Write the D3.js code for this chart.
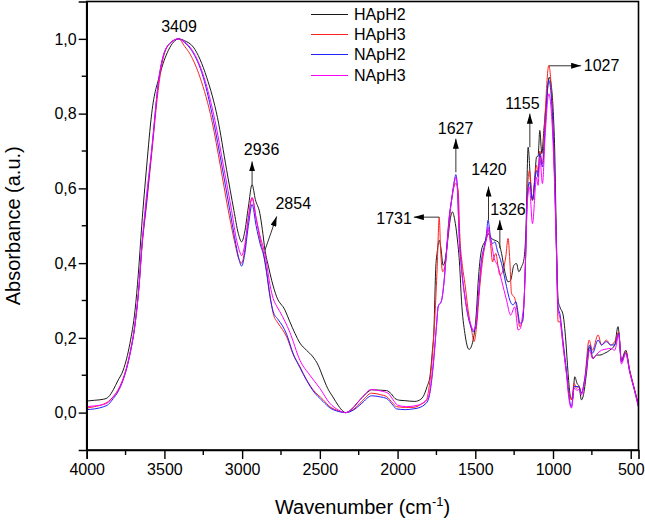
<!DOCTYPE html>
<html>
<head>
<meta charset="utf-8">
<script src="https://cdn.jsdelivr.net/npm/d3@7"></script>
<style>
  html, body { margin: 0; padding: 0; background: #fff; }
  svg { display: block; font-family: Arial, "Liberation Sans", sans-serif; }
</style>
</head>
<body>
<svg id="chart" width="645" height="521"></svg>
<script>
// ---------------- DATA ----------------
const seriesNames = ["HApH2", "HApH3", "NApH2", "NApH3"];
const seriesColors = ["#1a1a1a", "#ff2020", "#2020ff", "#ff00ff"];

const xTicks = [4000, 3500, 3000, 2500, 2000, 1500, 1000, 500];
const yTicks = [0.0, 0.2, 0.4, 0.6, 0.8, 1.0];

const HApH2 = [[4000,0.031],[3950,0.033],[3890,0.036],[3860,0.042],[3829,0.061],[3800,0.085],[3765,0.114],[3722,0.185],[3689,0.274],[3668,0.37],[3646,0.50],[3614,0.66],[3582,0.80],[3529,0.905],[3475,0.969],[3440,0.992],[3409,1.0],[3370,0.995],[3314,0.978],[3228,0.897],[3159,0.79],[3100,0.65],[3053,0.541],[3025,0.48],[3003,0.457],[2985,0.48],[2960,0.55],[2936,0.61],[2915,0.57],[2886,0.533],[2870,0.49],[2853,0.435],[2830,0.39],[2810,0.354],[2778,0.31],[2724,0.274],[2693,0.243],[2660,0.212],[2628,0.186],[2586,0.167],[2544,0.149],[2511,0.127],[2480,0.095],[2450,0.065],[2416,0.042],[2380,0.018],[2352,0.004],[2334,0.0],[2300,0.008],[2243,0.034],[2200,0.052],[2167,0.061],[2110,0.06],[2071,0.059],[2040,0.05],[2017,0.038],[1985,0.033],[1953,0.032],[1889,0.03],[1850,0.036],[1835,0.043],[1810,0.07],[1792,0.096],[1775,0.17],[1767,0.212],[1754,0.39],[1745,0.43],[1732,0.461],[1722,0.443],[1707,0.394],[1690,0.417],[1675,0.47],[1659,0.523],[1647,0.537],[1632,0.515],[1617,0.47],[1600,0.39],[1589,0.301],[1567,0.212],[1540,0.169],[1514,0.194],[1492,0.274],[1482,0.346],[1460,0.435],[1428,0.466],[1418,0.479],[1396,0.466],[1374,0.461],[1353,0.457],[1331,0.426],[1310,0.377],[1289,0.35],[1273,0.354],[1252,0.394],[1235,0.399],[1220,0.377],[1203,0.39],[1188,0.408],[1175,0.479],[1160,0.71],[1145,0.62],[1132,0.568],[1117,0.63],[1106,0.684],[1096,0.686],[1085,0.755],[1072,0.693],[1059,0.755],[1042,0.835],[1025,0.897],[1010,0.871],[1000,0.817],[989,0.70],[978,0.461],[967,0.301],[956,0.283],[935,0.261],[918,0.194],[903,0.105],[888,0.043],[875,0.034],[860,0.096],[845,0.078],[832,0.07],[817,0.034],[802,0.052],[785,0.105],[764,0.176],[742,0.145],[721,0.154],[699,0.154],[667,0.159],[635,0.167],[603,0.181],[582,0.23],[560,0.141],[532,0.167],[507,0.114],[475,0.061],[450,0.022]];

const HApH3 = [[4000,0.012],[3950,0.016],[3890,0.023],[3860,0.03],[3829,0.043],[3800,0.06],[3765,0.092],[3722,0.159],[3689,0.239],[3662,0.346],[3646,0.435],[3614,0.56],[3580,0.70],[3535,0.88],[3507,0.95],[3460,0.99],[3409,1.0],[3370,0.98],[3336,0.96],[3271,0.897],[3194,0.78],[3140,0.66],[3093,0.55],[3050,0.46],[3020,0.41],[3003,0.40],[2985,0.43],[2960,0.52],[2936,0.575],[2910,0.52],[2880,0.455],[2864,0.43],[2843,0.38],[2821,0.315],[2800,0.265],[2770,0.24],[2740,0.222],[2714,0.203],[2671,0.155],[2628,0.123],[2607,0.105],[2543,0.061],[2480,0.035],[2436,0.016],[2380,0.005],[2334,0.0],[2280,0.01],[2230,0.03],[2167,0.052],[2110,0.048],[2071,0.043],[2030,0.025],[2007,0.016],[1950,0.014],[1900,0.014],[1850,0.022],[1814,0.034],[1800,0.06],[1782,0.123],[1760,0.256],[1745,0.39],[1732,0.523],[1723,0.435],[1710,0.377],[1696,0.39],[1675,0.479],[1653,0.568],[1625,0.613],[1610,0.595],[1600,0.479],[1582,0.39],[1567,0.346],[1546,0.274],[1524,0.221],[1508,0.19],[1492,0.23],[1471,0.337],[1450,0.417],[1428,0.47],[1418,0.49],[1402,0.452],[1389,0.403],[1380,0.415],[1368,0.426],[1353,0.39],[1342,0.368],[1321,0.381],[1304,0.417],[1289,0.466],[1278,0.408],[1267,0.319],[1246,0.306],[1231,0.274],[1214,0.23],[1196,0.248],[1186,0.30],[1175,0.435],[1167,0.568],[1152,0.648],[1132,0.568],[1106,0.662],[1096,0.64],[1085,0.70],[1068,0.666],[1053,0.782],[1027,0.929],[1010,0.86],[989,0.62],[978,0.44],[967,0.243],[956,0.243],[935,0.176],[913,0.105],[897,0.052],[881,0.034],[864,0.078],[849,0.065],[832,0.07],[817,0.052],[796,0.089],[768,0.194],[746,0.167],[710,0.208],[688,0.181],[656,0.194],[630,0.181],[603,0.19],[577,0.216],[560,0.136],[532,0.163],[507,0.114],[475,0.061],[450,0.02]];

const NApH2 = [[4000,0.008],[3950,0.01],[3890,0.016],[3860,0.022],[3829,0.038],[3800,0.055],[3765,0.088],[3722,0.155],[3689,0.235],[3662,0.345],[3646,0.44],[3621,0.541],[3580,0.71],[3535,0.897],[3507,0.955],[3460,0.99],[3409,1.0],[3370,0.99],[3325,0.969],[3250,0.897],[3185,0.782],[3130,0.66],[3079,0.541],[3040,0.45],[3020,0.41],[3003,0.392],[2985,0.42],[2960,0.50],[2936,0.557],[2910,0.50],[2880,0.445],[2864,0.425],[2843,0.375],[2821,0.31],[2800,0.27],[2770,0.25],[2740,0.232],[2714,0.21],[2671,0.157],[2628,0.12],[2543,0.058],[2480,0.03],[2436,0.013],[2380,0.003],[2334,0.0],[2280,0.008],[2230,0.025],[2167,0.045],[2110,0.042],[2071,0.038],[2030,0.02],[2007,0.01],[1950,0.008],[1900,0.01],[1850,0.015],[1830,0.02],[1803,0.034],[1771,0.123],[1750,0.23],[1739,0.283],[1717,0.30],[1702,0.346],[1685,0.435],[1668,0.523],[1653,0.568],[1635,0.62],[1625,0.637],[1615,0.60],[1604,0.479],[1589,0.39],[1567,0.31],[1546,0.256],[1524,0.225],[1514,0.216],[1497,0.23],[1482,0.301],[1460,0.408],[1439,0.452],[1428,0.479],[1418,0.515],[1402,0.47],[1389,0.452],[1374,0.457],[1359,0.435],[1331,0.399],[1299,0.337],[1278,0.301],[1257,0.288],[1239,0.297],[1224,0.265],[1214,0.239],[1196,0.243],[1186,0.30],[1175,0.435],[1167,0.56],[1152,0.617],[1132,0.57],[1106,0.648],[1096,0.63],[1085,0.693],[1068,0.657],[1050,0.764],[1027,0.889],[1010,0.84],[989,0.62],[978,0.44],[967,0.28],[956,0.265],[935,0.19],[913,0.11],[897,0.043],[881,0.016],[864,0.07],[845,0.07],[832,0.068],[817,0.052],[796,0.09],[764,0.181],[746,0.159],[710,0.194],[688,0.181],[656,0.19],[630,0.181],[603,0.181],[577,0.212],[560,0.136],[532,0.16],[507,0.11],[475,0.058],[450,0.016]];

const NApH3 = [[4000,0.016],[3950,0.018],[3890,0.022],[3860,0.028],[3829,0.042],[3800,0.058],[3765,0.09],[3722,0.157],[3689,0.237],[3662,0.345],[3646,0.44],[3625,0.541],[3580,0.71],[3535,0.895],[3507,0.955],[3460,0.99],[3409,1.0],[3370,0.992],[3320,0.969],[3245,0.897],[3175,0.782],[3120,0.66],[3068,0.541],[3035,0.46],[3015,0.43],[3003,0.42],[2985,0.445],[2960,0.52],[2936,0.575],[2910,0.52],[2880,0.465],[2864,0.443],[2843,0.40],[2820,0.34],[2800,0.305],[2778,0.285],[2757,0.27],[2693,0.215],[2628,0.14],[2564,0.10],[2500,0.065],[2436,0.025],[2380,0.007],[2334,0.0],[2280,0.015],[2230,0.04],[2167,0.062],[2110,0.058],[2061,0.052],[2030,0.035],[2000,0.02],[1942,0.016],[1868,0.02],[1830,0.028],[1803,0.04],[1771,0.13],[1750,0.23],[1739,0.283],[1717,0.30],[1702,0.346],[1685,0.43],[1668,0.52],[1653,0.565],[1635,0.615],[1625,0.63],[1615,0.60],[1604,0.47],[1589,0.385],[1567,0.31],[1546,0.26],[1524,0.23],[1514,0.22],[1497,0.235],[1482,0.30],[1460,0.40],[1439,0.445],[1428,0.465],[1418,0.497],[1402,0.46],[1396,0.452],[1381,0.417],[1353,0.39],[1331,0.354],[1299,0.301],[1273,0.261],[1246,0.283],[1224,0.221],[1210,0.225],[1196,0.261],[1186,0.30],[1175,0.435],[1167,0.55],[1152,0.604],[1132,0.506],[1106,0.63],[1096,0.608],[1085,0.684],[1068,0.613],[1050,0.746],[1027,0.853],[1010,0.80],[989,0.60],[978,0.43],[967,0.27],[956,0.256],[935,0.18],[913,0.10],[897,0.035],[881,0.012],[864,0.065],[845,0.06],[832,0.062],[817,0.047],[796,0.085],[764,0.167],[746,0.145],[710,0.16],[688,0.167],[656,0.17],[630,0.172],[603,0.167],[577,0.208],[560,0.13],[532,0.158],[507,0.11],[475,0.058],[450,0.014]];

const seriesData = [HApH2, HApH3, NApH2, NApH3];

// Peak annotations: label, arrow start [w, a], arrow tip [w, a], text anchor point [w, a], anchor side
const peakLabels = ["3409", "2936", "2854", "1731", "1627", "1420", "1326", "1155", "1027"];
const arrowFrom = [null, [2936, 0.61], [2853, 0.435], [1732, 0.523], [1625, 0.643], [1415, 0.515], [1342, 0.44], [1149, 0.71], [1025, 0.928]];
const arrowTo   = [null, [2936, 0.672], [2778, 0.525], [1895, 0.523], [1625, 0.733], [1415, 0.605], [1342, 0.515], [1149, 0.80], [819, 0.928]];
const labelAt   = [[3406, 1.018], [2875, 0.688], [2671, 0.546], [1908, 0.506], [1627, 0.746], [1412, 0.635], [1290, 0.528], [1197, 0.812], [802, 0.915]];
const labelAnchor = ["middle", "middle", "middle", "end", "middle", "middle", "middle", "middle", "start"];

// ---------------- CHART ----------------
const svg = d3.select("#chart");
const mLeft = 86.7, mRight = 638.5, mTop = 1.5, mBottom = 450;

const x = d3.scaleLinear().domain([4000, 450]).range([mLeft, mRight]);
const y = d3.scaleLinear().domain([-0.1, 1.1]).range([mBottom, mTop]);

const fmt = v => d3.format(".1f")(v).replace(".", ",");

// Series
const line = d3.line().x(d => x(d[0])).y(d => y(d[1])).curve(d3.curveMonotoneX);
const plot = svg.append("g");
seriesData.forEach((s, i) => {
  plot.append("path")
    .datum(s)
    .attr("fill", "none")
    .attr("stroke", seriesColors[i])
    .attr("stroke-width", 1)
    .attr("stroke-linejoin", "round")
    .attr("d", line);
});

// Frame
svg.append("rect")
  .attr("x", mLeft).attr("y", mTop)
  .attr("width", mRight - mLeft).attr("height", mBottom - mTop)
  .attr("fill", "none").attr("stroke", "#000").attr("stroke-width", 1.6);

// X axis
const xMinor = d3.range(3750, 500, -500);
const xAxis = d3.axisBottom(x).tickValues(xTicks).tickSize(9).tickPadding(5).tickFormat(d3.format("d"));
const gx = svg.append("g").attr("transform", `translate(0,${mBottom})`).call(xAxis);
gx.select(".domain").attr("stroke-width", 1.6);
gx.selectAll(".tick line").attr("stroke-width", 1.4);
gx.selectAll(".tick text").attr("font-size", 16).attr("font-family", "Arial, 'Liberation Sans', sans-serif").attr("fill", "#000");
svg.append("g").selectAll("line").data(xMinor).join("line")
  .attr("x1", d => x(d)).attr("x2", d => x(d))
  .attr("y1", mBottom).attr("y2", mBottom + 5)
  .attr("stroke", "#000").attr("stroke-width", 1.4);

// Y axis
const yMinor = [0.1, 0.3, 0.5, 0.7, 0.9];
const yAxis = d3.axisLeft(y).tickValues(yTicks).tickSize(8).tickPadding(2).tickFormat(fmt);
const gy = svg.append("g").attr("transform", `translate(${mLeft},0)`).call(yAxis);
gy.select(".domain").attr("stroke-width", 1.6);
gy.selectAll(".tick line").attr("stroke-width", 1.4);
gy.selectAll(".tick text").attr("font-size", 16).attr("font-family", "Arial, 'Liberation Sans', sans-serif").attr("fill", "#000");
svg.append("g").selectAll("line").data(yMinor).join("line")
  .attr("x1", mLeft - 5).attr("x2", mLeft)
  .attr("y1", d => y(d)).attr("y2", d => y(d))
  .attr("stroke", "#000").attr("stroke-width", 1.4);

// Axis titles
const xt = svg.append("text")
  .attr("x", (mLeft + mRight) / 2).attr("y", 514)
  .attr("text-anchor", "middle").attr("font-size", 20).attr("fill", "#000");
xt.append("tspan").text("Wavenumber (cm");
xt.append("tspan").attr("font-size", 13).attr("dy", -8).text("-1");
xt.append("tspan").attr("dy", 8).text(")");

svg.append("text")
  .attr("transform", `translate(20,${(mTop + mBottom) / 2}) rotate(-90)`)
  .attr("text-anchor", "middle").attr("font-size", 20).attr("fill", "#000")
  .text("Absorbance (a.u.)");

// Legend
const legend = svg.append("g");
const legendY = [14.5, 34.5, 54.5, 75.5];
seriesNames.forEach((name, i) => {
  legend.append("line")
    .attr("x1", 311).attr("x2", 348)
    .attr("y1", legendY[i]).attr("y2", legendY[i])
    .attr("stroke", seriesColors[i]).attr("stroke-width", 1);
  legend.append("text")
    .attr("x", 354).attr("y", legendY[i])
    .attr("dominant-baseline", "central")
    .attr("font-size", 16).attr("fill", "#000")
    .text(name);
});

// Annotations
const defs = svg.append("defs");
defs.append("marker")
  .attr("id", "arrowhead")
  .attr("viewBox", "0 0 10 6")
  .attr("refX", 10).attr("refY", 3)
  .attr("markerWidth", 10).attr("markerHeight", 6)
  .attr("markerUnits", "userSpaceOnUse")
  .attr("orient", "auto")
  .append("path").attr("d", "M0,0 L10,3 L0,6 Z").attr("fill", "#000");

const ann = svg.append("g");
peakLabels.forEach((lab, i) => {
  if (arrowFrom[i]) {
    ann.append("line")
      .attr("x1", x(arrowFrom[i][0])).attr("y1", y(arrowFrom[i][1]))
      .attr("x2", x(arrowTo[i][0])).attr("y2", y(arrowTo[i][1]))
      .attr("stroke", "#333").attr("stroke-width", 1)
      .attr("marker-end", "url(#arrowhead)");
  }
  ann.append("text")
    .attr("x", x(labelAt[i][0])).attr("y", y(labelAt[i][1]))
    .attr("text-anchor", labelAnchor[i])
    .attr("font-size", 16).attr("fill", "#000")
    .text(lab);
});
</script>
</body>
</html>
